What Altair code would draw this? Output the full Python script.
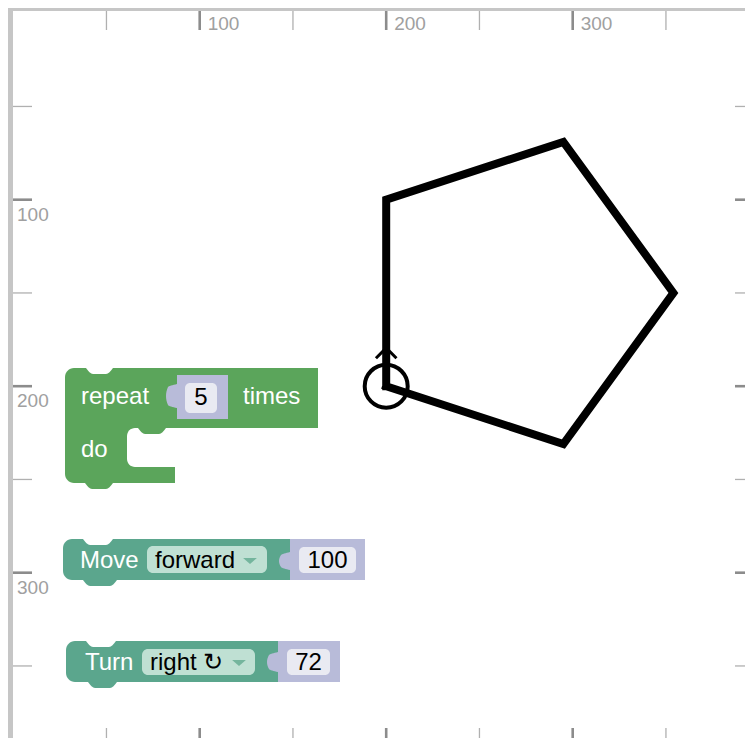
import altair as alt
import pandas as pd

# ---------------- turtle canvas (turtle units) ----------------
tick_minor = [50, 150, 250, 350]
tick_major = [100, 200, 300]
tick_label = ["100", "200", "300"]

path_x = [200, 200, 295, 354, 295, 200]
path_y = [200, 100, 69, 150, 231, 200]

turtle_x = [200]
turtle_y = [200]
arrow_x = [194.5, 200, 205.5]
arrow_y = [185, 179.5, 185]

# ---------------- blocks (workspace pixels) ----------------
GREEN = "#5ba55b"
TEAL = "#5ba68d"
LAV = "#b8bbd9"
FIELD = "#e9eaf2"
DROP = "#bfe0d3"
ARROWC = "#74b59d"

body_x0 = [65, 63, 66]
body_x1 = [318, 290, 278]
body_y0 = [368, 539, 641]
body_y1 = [483, 580, 682]
body_color = [GREEN, TEAL, TEAL]

carve_x0 = [127, 175]
carve_x1 = [330, 330]
carve_y0 = [428, 440]
carve_y1 = [467, 500]

notch_x0 = [86, 83, 86]
notch_x1 = [113, 113, 116]
notch_y = [368, 539, 641]

dtab_x0 = [85, 83, 88, 138]
dtab_x1 = [113, 117, 117, 166]
dtab_y = [483, 580, 682, 428]
dtab_color = [GREEN, TEAL, TEAL, GREEN]

inp_x0 = [177, 290, 278]
inp_x1 = [228, 365, 340]
inp_y0 = [375, 539, 641]
inp_y1 = [419, 580, 682]
ltab_y0 = [384, 552, 652]
ltab_y1 = [408, 570, 672]

num_x0 = [185, 299, 287]
num_x1 = [217, 356, 330]
num_y0 = [383, 547, 649]
num_y1 = [413, 573, 675]
num_text = ["5", "100", "72"]
num_base = [405, 568, 670]

dd_x0 = [147, 142]
dd_x1 = [267, 255]
dd_y0 = [546, 649]
dd_y1 = [573, 675]
dd_text = ["forward", "right ↻"]
dd_text_x = [155, 150]
dd_base = [568, 670]
dd_arrow_x = [250, 239]
dd_arrow_y = [561, 663]

lab_text = ["repeat", "times", "do", "Move", "Turn"]
lab_x = [81, 243, 81, 80, 85]
lab_base = [404, 404, 457, 568, 670]

FONT = "Liberation Sans"

W, H = 737, 730

# ---------------- scales ----------------
TX = alt.Scale(domain=[-2.79, (8 + W - 13.2) / 1.865], nice=False, zero=False)
TY = alt.Scale(domain=[-2.79, (8 + H - 13.2) / 1.865], nice=False, zero=False, reverse=True)
BX = alt.Scale(domain=[8, 8 + W], nice=False, zero=False)
BY = alt.Scale(domain=[8, 8 + H], nice=False, zero=False, reverse=True)


def tx(f):
    return alt.X(f, type="quantitative", scale=TX, axis=None)


def ty(f):
    return alt.Y(f, type="quantitative", scale=TY, axis=None)


def bx(f, **kw):
    return alt.X(f, type="quantitative", scale=BX, axis=None, **kw)


def by(f, **kw):
    return alt.Y(f, type="quantitative", scale=BY, axis=None, **kw)


# ---------------- turtle layer ----------------
one = pd.DataFrame({"k": [0]})
minor_df = pd.DataFrame({"t": tick_minor})
major_df = pd.DataFrame({"t": tick_major, "lab": tick_label})

grey = "#c6c6c6"
bar_left = alt.Chart(one).mark_rect(color=grey).encode(
    x=alt.value(0), x2=alt.value(5), y=alt.value(0), y2=alt.value(H))
bar_top = alt.Chart(one).mark_rect(color=grey).encode(
    x=alt.value(0), x2=alt.value(W), y=alt.value(0), y2=alt.value(3))

minc, majc = "#b0b0b0", "#8c8c8c"
top_min = alt.Chart(minor_df).mark_rule(color=minc, strokeWidth=1.3).encode(
    x=tx("t"), y=alt.value(3), y2=alt.value(22))
top_maj = alt.Chart(major_df).mark_rule(color=majc, strokeWidth=2.6).encode(
    x=tx("t"), y=alt.value(3), y2=alt.value(22))
bot_min = alt.Chart(minor_df).mark_rule(color=minc, strokeWidth=1.3).encode(
    x=tx("t"), y=alt.value(H - 10), y2=alt.value(H))
bot_maj = alt.Chart(major_df).mark_rule(color=majc, strokeWidth=2.6).encode(
    x=tx("t"), y=alt.value(H - 10), y2=alt.value(H))
left_min = alt.Chart(minor_df).mark_rule(color=minc, strokeWidth=1.3).encode(
    y=ty("t"), x=alt.value(5), x2=alt.value(24))
left_maj = alt.Chart(major_df).mark_rule(color=majc, strokeWidth=2.6).encode(
    y=ty("t"), x=alt.value(5), x2=alt.value(24))
right_min = alt.Chart(minor_df).mark_rule(color=minc, strokeWidth=1.3).encode(
    y=ty("t"), x=alt.value(W - 10), x2=alt.value(W))
right_maj = alt.Chart(major_df).mark_rule(color=majc, strokeWidth=2.6).encode(
    y=ty("t"), x=alt.value(W - 10), x2=alt.value(W))

top_lab = alt.Chart(major_df).mark_text(
    align="left", baseline="alphabetic", dx=8, font=FONT, fontSize=19, color="#a0a0a0"
).encode(x=tx("t"), y=alt.value(22), text="lab:N")
left_lab = alt.Chart(major_df).mark_text(
    align="left", baseline="alphabetic", dy=21, font=FONT, fontSize=19, color="#a0a0a0"
).encode(y=ty("t"), x=alt.value(9), text="lab:N")

path_df = pd.DataFrame({"x": path_x, "y": path_y, "i": list(range(len(path_x)))})
path = alt.Chart(path_df).mark_line(
    color="black", strokeWidth=8, strokeJoin="miter", strokeCap="square"
).encode(x=tx("x"), y=ty("y"), order="i:Q")

turtle_df = pd.DataFrame({"x": turtle_x, "y": turtle_y})
circle = alt.Chart(turtle_df).mark_point(
    shape="circle", size=1849, filled=False, strokeWidth=4, color="black", opacity=1
).encode(x=tx("x"), y=ty("y"))

arrow_df = pd.DataFrame({"x": arrow_x, "y": arrow_y, "i": [0, 1, 2]})
arrow = alt.Chart(arrow_df).mark_line(color="black", strokeWidth=3).encode(
    x=tx("x"), y=ty("y"), order="i:Q")

turtle_layer = alt.layer(bar_left, bar_top, top_min, top_maj, bot_min, bot_maj,
                         left_min, left_maj, right_min, right_maj, top_lab, left_lab,
                         path, circle, arrow)

# ---------------- blocks layer ----------------
body_df = pd.DataFrame({"x0": body_x0, "x1": body_x1, "y0": body_y0, "y1": body_y1, "c": body_color})
body = alt.Chart(body_df).mark_rect(cornerRadiusTopLeft=9, cornerRadiusBottomLeft=9).encode(
    x=bx("x0"), x2="x1", y=by("y0"), y2="y1", color=alt.Color("c:N", scale=None))

carve_df = pd.DataFrame({"x0": carve_x0, "x1": carve_x1, "y0": carve_y0, "y1": carve_y1})
carve = alt.Chart(carve_df).mark_rect(color="white", cornerRadiusTopLeft=8,
                                      cornerRadiusBottomLeft=8).encode(
    x=bx("x0"), x2="x1", y=by("y0"), y2="y1")

rows = []
for k, (a, b, e) in enumerate(zip(notch_x0, notch_x1, notch_y)):
    for xx, d in zip([a, a + 7, b - 7, b], [0, 6, 6, 0]):
        rows.append({"g": k, "x": xx, "y": e - 1, "y2": e + d})
notch_df = pd.DataFrame(rows)
notch = alt.Chart(notch_df).mark_area(color="white", interpolate="monotone").encode(
    x=bx("x"), y=by("y", stack=None), y2="y2", detail="g:N")

rows = []
for k, (a, b, e, c) in enumerate(zip(dtab_x0, dtab_x1, dtab_y, dtab_color)):
    for xx, d in zip([a, a + 7, b - 7, b], [0, 6, 6, 0]):
        rows.append({"g": k, "x": xx, "y": e - 1, "y2": e + d, "c": c})
dtab_df = pd.DataFrame(rows)
dtab = alt.Chart(dtab_df).mark_area(interpolate="monotone").encode(
    x=bx("x"), y=by("y", stack=None), y2="y2", detail="g:N",
    color=alt.Color("c:N", scale=None))

inp_df = pd.DataFrame({"x0": inp_x0, "x1": inp_x1, "y0": inp_y0, "y1": inp_y1})
inp = alt.Chart(inp_df).mark_rect(color=LAV).encode(
    x=bx("x0"), x2="x1", y=by("y0"), y2="y1")

rows = []
for k, (e, a, b) in enumerate(zip(inp_x0, ltab_y0, ltab_y1)):
    m = (a + b) / 2
    for yy, d in zip([a, a + 3, m, b - 3, b], [0, 9, 11, 9, 0]):
        rows.append({"g": k, "y": yy, "x": e - d, "x2": e + 1})
ltab_df = pd.DataFrame(rows)
ltab = alt.Chart(ltab_df).mark_area(color=LAV, orient="horizontal", interpolate="monotone").encode(
    y=by("y"), x=bx("x", stack=None), x2="x2", detail="g:N")

num_df = pd.DataFrame({"x0": num_x0, "x1": num_x1, "y0": num_y0, "y1": num_y1,
                       "t": num_text, "b": num_base,
                       "xc": [(a + b) / 2 for a, b in zip(num_x0, num_x1)]})
numf = alt.Chart(num_df).mark_rect(color=FIELD, cornerRadius=5).encode(
    x=bx("x0"), x2="x1", y=by("y0"), y2="y1")
numt = alt.Chart(num_df).mark_text(align="center", baseline="alphabetic", font=FONT,
                                   fontSize=24, color="black").encode(
    x=bx("xc"), y=by("b"), text="t:N")

dd_df = pd.DataFrame({"x0": dd_x0, "x1": dd_x1, "y0": dd_y0, "y1": dd_y1,
                      "t": dd_text, "tx": dd_text_x, "b": dd_base,
                      "ax": dd_arrow_x, "ay": dd_arrow_y})
ddf = alt.Chart(dd_df).mark_rect(color=DROP, cornerRadius=6).encode(
    x=bx("x0"), x2="x1", y=by("y0"), y2="y1")
ddt = alt.Chart(dd_df).mark_text(align="left", baseline="alphabetic", font=FONT,
                                 fontSize=24, color="black").encode(
    x=bx("tx"), y=by("b"), text="t:N")
dda = alt.Chart(dd_df).mark_point(shape="M-1,-0.45L1,-0.45L0,0.45Z", size=190, filled=True,
                                  color=ARROWC, opacity=1).encode(
    x=bx("ax"), y=by("ay"))

lab_df = pd.DataFrame({"t": lab_text, "x": lab_x, "b": lab_base})
labs = alt.Chart(lab_df).mark_text(align="left", baseline="alphabetic", font=FONT,
                                   fontSize=24, color="white").encode(
    x=bx("x"), y=by("b"), text="t:N")

blocks_layer = alt.layer(body, carve, notch, dtab, inp, ltab, numf, numt, ddf, ddt, dda, labs)

chart = alt.layer(turtle_layer, blocks_layer).resolve_scale(
    x="independent", y="independent"
).properties(
    width=W, height=H, padding=0, autosize="none", background="white"
).configure_view(stroke=None)

chart.save("out.html", embed_options={"renderer": "svg", "actions": False})
